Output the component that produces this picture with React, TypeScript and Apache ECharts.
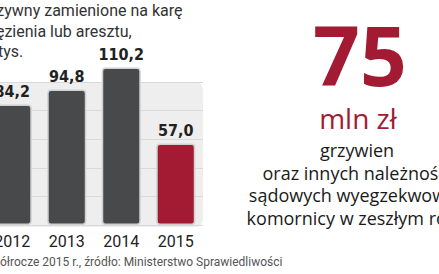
import React, { useEffect, useRef } from 'react';
import * as echarts from 'echarts';

const categories = ['2012', '2013', '2014', '2015'];
const values = [84.2, 94.8, 110.2, 57.0];
const barColors = ['#48494a', '#48494a', '#48494a', '#a21b33'];
const titleLines = ['Grzywny zamienione na karę', 'więzienia lub aresztu,', 'w tys.'];
const sourceText = 'I półrocze 2015 r., źródło: Ministerstwo Sprawiedliwości';
const bigNumber = '75';
const bigUnit = 'mln zł';
const sideLines = ['grzywien', 'oraz innych należności', 'sądowych wyegzekwowali', 'komornicy w zeszłym roku'];

const fmt = (v: number) => v.toFixed(1).replace('.', ',');

export default function App() {
  const ref = useRef<HTMLDivElement>(null);
  useEffect(() => {
    if (!ref.current) return;
    const chart = echarts.init(ref.current, null, { renderer: 'svg' });
    const red = '#a21b33';
    const titleX = [-20, -20, -18];
    chart.setOption({
      animation: false,
      backgroundColor: '#ffffff',
      grid: {
        left: -15,
        width: 218,
        top: 82,
        height: 143,
        containLabel: false,
        outerBoundsMode: 'none',
      },
      xAxis: {
        type: 'category',
        data: categories,
        axisLine: { show: false },
        axisTick: { show: false },
        splitLine: { show: false },
        axisLabel: { fontFamily: 'Roboto', fontSize: 16, color: '#222', margin: 8 },
      },
      yAxis: {
        type: 'value',
        min: 0,
        max: 100,
        interval: 20,
        axisLine: { show: false },
        axisTick: { show: false },
        axisLabel: { show: false },
        splitLine: { lineStyle: { color: '#d9d9d9', width: 1 } },
      },
      graphic: [
        {
          type: 'rect',
          z: -10,
          shape: { x: -20, y: 82, width: 223, height: 145, r: 8 },
          style: { fill: '#eeeeee' },
          silent: true,
        },
        ...titleLines.map((t, i) => ({
          type: 'text',
          x: titleX[i],
          y: 1 + i * 20.5,
          style: { text: t, fontFamily: 'Roboto', fontSize: 16, lineHeight: 19, fill: '#333' },
        })),
        {
          type: 'text',
          x: -13,
          y: 256,
          style: { text: sourceText, fontFamily: 'Roboto', fontSize: 12, fill: '#555' },
        },
        {
          type: 'text',
          x: 360,
          y: 54,
          style: {
            text: bigNumber,
            fontFamily: 'Open Sans',
            fontWeight: 'bold',
            fontSize: 82,
            lineHeight: 60,
            fill: red,
            textAlign: 'center',
            textVerticalAlign: 'middle',
          },
        },
        {
          type: 'text',
          x: 358,
          y: 118,
          style: {
            text: bigUnit,
            fontFamily: 'Open Sans',
            fontSize: 28,
            lineHeight: 28,
            fill: red,
            textAlign: 'center',
            textVerticalAlign: 'middle',
          },
        },
        ...sideLines.map((t, i) => ({
          type: 'text',
          x: 357,
          y: 150 + i * 22.5,
          style: {
            text: t,
            fontFamily: 'Open Sans',
            fontSize: 18,
            lineHeight: 21,
            fill: '#1a1a1a',
            textAlign: 'center',
            textVerticalAlign: 'middle',
          },
        })),
      ],
      series: [
        {
          type: 'bar',
          clip: false,
          barWidth: 39,
          data: values.map((v, i) => ({
            value: v,
            itemStyle: { color: barColors[i] },
          })),
          itemStyle: { borderColor: '#d0d0d0', borderWidth: 1.5, borderRadius: 3 },
          label: {
            show: true,
            position: 'top',
            distance: 5,
            formatter: (p: any) => fmt(p.value),
            fontFamily: 'DejaVu Sans Condensed',
            fontWeight: 'bold',
            fontSize: 16,
            color: '#222',
          },
        },
      ],
    });
    return () => chart.dispose();
  }, []);
  return <div ref={ref} style={{ position: 'fixed', left: 0, top: 0, width: 439, height: 274 }} />;
}
